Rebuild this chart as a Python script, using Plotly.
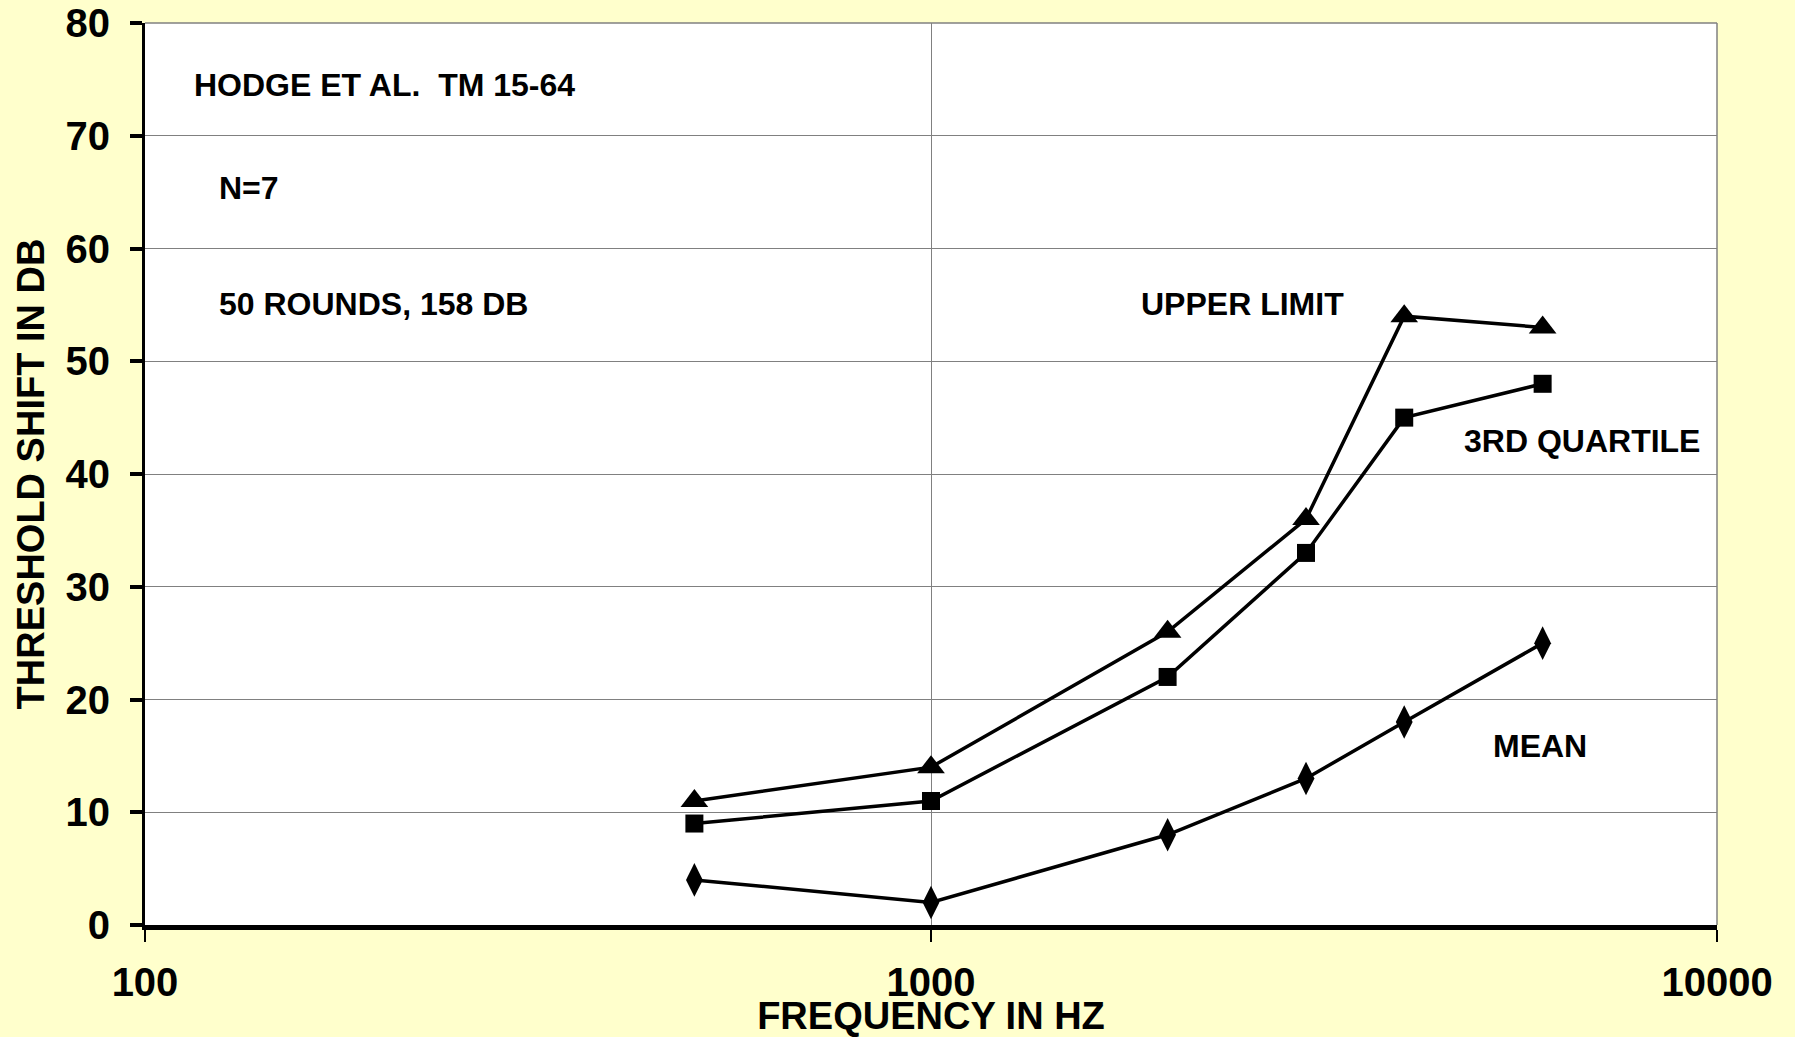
import plotly.graph_objects as go

# Frequencies (Hz) and threshold shifts (dB)
freq_hz = [500, 1000, 2000, 3000, 4000, 6000]
upper_limit = [11, 14, 26, 36, 54, 53]
third_quartile = [9, 11, 22, 33, 45, 48]
mean_shift = [4, 2, 8, 13, 18, 25]

x_tick_vals = [100, 1000, 10000]
x_tick_text = ["100", "1000", "10000"]
y_tick_vals = [0, 10, 20, 30, 40, 50, 60, 70, 80]

FONT = "Liberation Sans, Arial, sans-serif"

fig = go.Figure()

fig.add_trace(go.Scatter(
    x=freq_hz, y=upper_limit, name="UPPER LIMIT", mode="lines+markers",
    line=dict(color="black", width=3.5),
    marker=dict(symbol="triangle-up", size=24, color="black")))
fig.add_trace(go.Scatter(
    x=freq_hz, y=third_quartile, name="3RD QUARTILE", mode="lines+markers",
    line=dict(color="black", width=3.5),
    marker=dict(symbol="square", size=18, color="black")))
fig.add_trace(go.Scatter(
    x=freq_hz, y=mean_shift, name="MEAN", mode="lines+markers",
    line=dict(color="black", width=3.5),
    marker=dict(symbol="diamond-tall", size=24, color="black")))

# text labels inside the plot
notes = [
    ("HODGE ET AL.  TM 15-64", 0.030, 0.931),
    ("N=7", 0.046, 0.817),
    ("50 ROUNDS, 158 DB", 0.046, 0.688),
    ("UPPER LIMIT", 0.632, 0.688),
    ("3RD QUARTILE", 0.838, 0.537),
    ("MEAN", 0.8565, 0.199),
]
for txt, px, py in notes:
    fig.add_annotation(text="<b>" + txt + "</b>", x=px, y=py, xref="paper", yref="paper",
                       xanchor="left", yanchor="middle", showarrow=False,
                       font=dict(family=FONT, size=32, color="black"))

# top and right borders (thin gray)
fig.add_shape(type="line", xref="paper", yref="paper", x0=0, x1=1, y0=1, y1=1,
              line=dict(color="#808080", width=1.5))
fig.add_shape(type="line", xref="paper", yref="paper", x0=1, x1=1, y0=0, y1=1,
              line=dict(color="#808080", width=1.5))

fig.update_layout(
    width=1795, height=1037,
    paper_bgcolor="#FFFFCC", plot_bgcolor="white",
    showlegend=False,
    margin=dict(l=145, r=78, t=23, b=112),
    font=dict(family=FONT, color="black"),
)

fig.update_xaxes(
    type="log", range=[2, 4],
    tickvals=x_tick_vals, ticktext=x_tick_text,
    tickfont=dict(family=FONT, size=40, weight="bold"),
    ticks="outside", ticklen=12, tickwidth=2, tickcolor="black",
    ticklabelstandoff=6,
    showline=True, linecolor="black", linewidth=5,
    showgrid=True, gridcolor="#808080", gridwidth=1,
    zeroline=False,
    title=dict(text="<b>FREQUENCY IN HZ</b>", font=dict(family=FONT, size=38), standoff=2),
    automargin=False,
)
fig.update_yaxes(
    range=[0, 80], tickvals=y_tick_vals,
    tickfont=dict(family=FONT, size=40, weight="bold"),
    ticks="outside", ticklen=12, tickwidth=4, tickcolor="black",
    ticklabelstandoff=12,
    showline=True, linecolor="black", linewidth=3,
    showgrid=True, gridcolor="#808080", gridwidth=1,
    zeroline=False,
    title=dict(text="<b>THRESHOLD SHIFT IN DB</b>", font=dict(family=FONT, size=38), standoff=10),
    automargin=False,
)

fig.write_html("out.html", config={"displayModeBar": False},
               post_script="document.body.style.margin='0';")
